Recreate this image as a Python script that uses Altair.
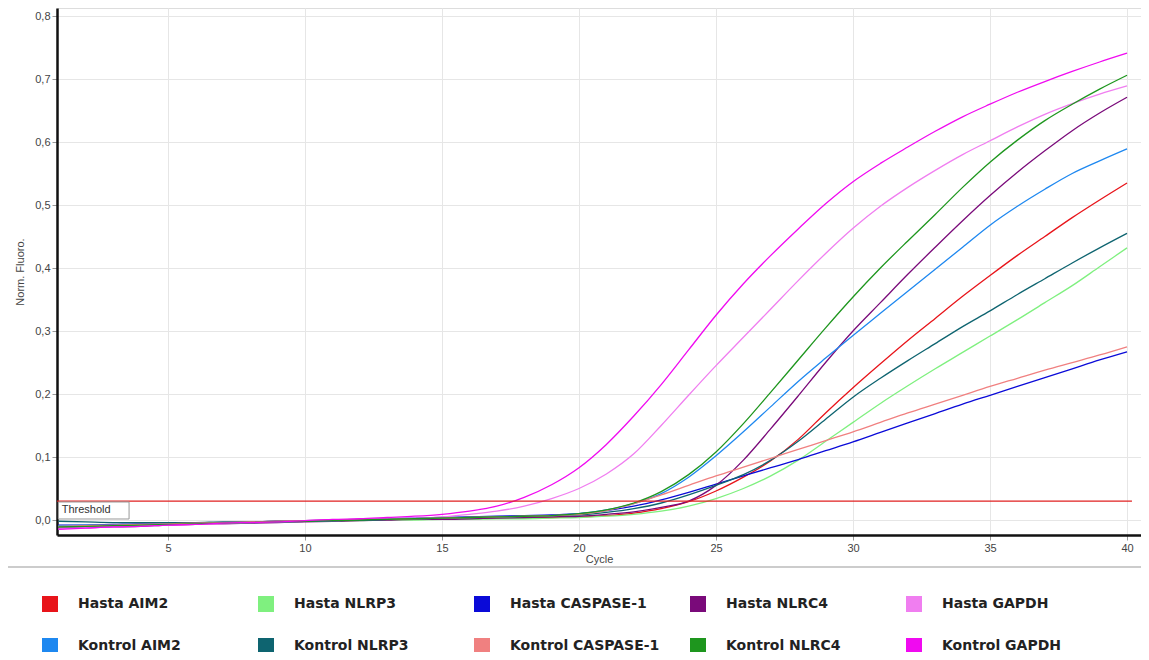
import altair as alt
import pandas as pd

cycles = list(range(1, 41))

series_names = ["Hasta AIM2", "Hasta NLRP3", "Hasta CASPASE-1", "Hasta NLRC4", "Hasta GAPDH",
                "Kontrol AIM2", "Kontrol NLRP3", "Kontrol CASPASE-1", "Kontrol NLRC4", "Kontrol GAPDH"]
series_colors = ["#e8141a", "#7ff07f", "#0a0ad8", "#7a0a7a", "#f07ef0",
                 "#1e88f0", "#0e6470", "#f08080", "#1e961e", "#f00af0"]

hasta_aim2 = [-0.010, -0.009, -0.008, -0.007, -0.006, -0.005, -0.005, -0.004, -0.003, -0.002,
              -0.001, 0.000, 0.001, 0.001, 0.002, 0.002, 0.003, 0.003, 0.004, 0.005,
              0.007, 0.011, 0.018, 0.029, 0.046, 0.068, 0.094, 0.128, 0.170, 0.210,
              0.248, 0.285, 0.320, 0.355, 0.388, 0.420, 0.450, 0.480, 0.508, 0.535]
hasta_nlrp3 = [-0.011, -0.010, -0.009, -0.008, -0.007, -0.006, -0.005, -0.004, -0.003, -0.002,
               -0.002, -0.001, 0.000, 0.000, 0.001, 0.001, 0.002, 0.002, 0.003, 0.004,
               0.006, 0.009, 0.014, 0.022, 0.034, 0.050, 0.070, 0.095, 0.125, 0.155,
               0.185, 0.213, 0.240, 0.266, 0.292, 0.318, 0.345, 0.372, 0.402, 0.432]
hasta_casp1 = [-0.008, -0.008, -0.007, -0.006, -0.006, -0.005, -0.004, -0.003, -0.002, -0.001,
               0.000, 0.001, 0.002, 0.003, 0.004, 0.005, 0.006, 0.007, 0.008, 0.010,
               0.015, 0.022, 0.032, 0.044, 0.057, 0.070, 0.083, 0.096, 0.110, 0.124,
               0.139, 0.154, 0.169, 0.184, 0.198, 0.212, 0.226, 0.240, 0.254, 0.267]
hasta_nlrc4 = [-0.013, -0.012, -0.011, -0.010, -0.008, -0.007, -0.006, -0.005, -0.004, -0.003,
               -0.002, -0.001, 0.000, 0.001, 0.001, 0.002, 0.003, 0.004, 0.005, 0.006,
               0.009, 0.013, 0.020, 0.030, 0.055, 0.095, 0.145, 0.197, 0.250, 0.300,
               0.345, 0.390, 0.433, 0.475, 0.515, 0.552, 0.586, 0.618, 0.646, 0.671]
hasta_gapdh = [-0.014, -0.012, -0.011, -0.009, -0.008, -0.007, -0.006, -0.004, -0.003, -0.002,
               -0.001, 0.001, 0.002, 0.003, 0.005, 0.009, 0.014, 0.022, 0.034, 0.050,
               0.073, 0.105, 0.150, 0.198, 0.245, 0.290, 0.335, 0.380, 0.423, 0.463,
               0.498, 0.528, 0.555, 0.580, 0.602, 0.624, 0.644, 0.661, 0.676, 0.689]
kontrol_aim2 = [-0.009, -0.008, -0.008, -0.007, -0.006, -0.005, -0.004, -0.004, -0.003, -0.002,
                -0.001, 0.000, 0.001, 0.002, 0.003, 0.004, 0.005, 0.006, 0.007, 0.010,
                0.016, 0.026, 0.042, 0.068, 0.102, 0.140, 0.180, 0.220, 0.257, 0.293,
                0.328, 0.363, 0.398, 0.433, 0.468, 0.498, 0.525, 0.550, 0.570, 0.589]
kontrol_nlrp3 = [-0.002, -0.003, -0.004, -0.004, -0.004, -0.004, -0.003, -0.003, -0.002, -0.002,
                 -0.001, 0.000, 0.001, 0.002, 0.003, 0.004, 0.005, 0.006, 0.007, 0.008,
                 0.012, 0.018, 0.027, 0.040, 0.055, 0.072, 0.095, 0.125, 0.160, 0.195,
                 0.225, 0.253, 0.280, 0.307, 0.332, 0.358, 0.383, 0.408, 0.432, 0.455]
kontrol_casp1 = [-0.010, -0.009, -0.008, -0.007, -0.006, -0.005, -0.004, -0.003, -0.002, -0.001,
                 0.000, 0.001, 0.001, 0.002, 0.003, 0.004, 0.005, 0.006, 0.007, 0.009,
                 0.015, 0.026, 0.040, 0.055, 0.070, 0.084, 0.098, 0.112, 0.126, 0.140,
                 0.155, 0.170, 0.184, 0.198, 0.212, 0.225, 0.238, 0.250, 0.262, 0.275]
kontrol_nlrc4 = [-0.011, -0.010, -0.009, -0.008, -0.007, -0.006, -0.005, -0.004, -0.003, -0.002,
                 -0.001, 0.000, 0.001, 0.002, 0.003, 0.004, 0.005, 0.006, 0.007, 0.010,
                 0.016, 0.027, 0.045, 0.072, 0.108, 0.153, 0.203, 0.254, 0.305, 0.354,
                 0.400, 0.443, 0.485, 0.528, 0.568, 0.603, 0.634, 0.660, 0.684, 0.706]
kontrol_gapdh = [-0.015, -0.013, -0.011, -0.010, -0.008, -0.007, -0.005, -0.004, -0.003, -0.001,
                 0.001, 0.002, 0.004, 0.006, 0.009, 0.014, 0.022, 0.036, 0.056, 0.083,
                 0.120, 0.165, 0.215, 0.270, 0.325, 0.375, 0.420, 0.462, 0.502, 0.537,
                 0.566, 0.592, 0.617, 0.640, 0.660, 0.679, 0.696, 0.712, 0.727, 0.741]

all_series = [hasta_aim2, hasta_nlrp3, hasta_casp1, hasta_nlrc4, hasta_gapdh,
              kontrol_aim2, kontrol_nlrp3, kontrol_casp1, kontrol_nlrc4, kontrol_gapdh]

x_ticks = [5, 10, 15, 20, 25, 30, 35, 40]
y_ticks = [0.0, 0.1, 0.2, 0.3, 0.4, 0.5, 0.6, 0.7, 0.8]
threshold_value = 0.03

rows = []
for name, vals in zip(series_names, all_series):
    for c, v in zip(cycles, vals):
        rows.append({"series": name, "cycle": c, "fluoro": v})
df = pd.DataFrame(rows)

X_DOMAIN = [0.95, 40.51]
Y_DOMAIN = [-0.0238, 0.8127]

xscale = alt.Scale(domain=X_DOMAIN, nice=False, zero=False)
yscale = alt.Scale(domain=Y_DOMAIN, nice=False, zero=False)
cscale = alt.Scale(domain=series_names, range=series_colors)

x_axis = alt.Axis(values=x_ticks, title="Cycle", format="d", labelFont="Liberation Sans",
                  labelFontSize=11, labelColor="#444", titleFont="Liberation Sans",
                  titleFontSize=11, titleFontWeight="normal", titleColor="#444",
                  domainColor="#111", domainWidth=2.5, tickColor="#999", tickSize=5,
                  gridColor="#e6e6e6", labelPadding=2, titlePadding=0)
y_axis = alt.Axis(values=y_ticks, title="Norm. Fluoro.",
                  labelExpr="replace(format(datum.value, '.1f'), '.', ',')",
                  labelFont="Liberation Sans", labelFontSize=11, labelColor="#444",
                  titleFont="Liberation Sans", titleFontSize=11, titleFontWeight="normal",
                  titleColor="#444", domainColor="#111", domainWidth=2.5, tickColor="#999",
                  tickSize=5, gridColor="#e6e6e6", labelPadding=2, titlePadding=9)

base = alt.Chart(df)

lines = base.mark_line(strokeWidth=1.3, interpolate="monotone").encode(
    x=alt.X("cycle:Q", scale=xscale, axis=x_axis),
    y=alt.Y("fluoro:Q", scale=yscale, axis=y_axis),
    color=alt.Color("series:N", scale=cscale,
                    legend=alt.Legend(orient="none", legendX=-15, legendY=588, columns=5,
                                      direction="horizontal",
                                      symbolType="square", symbolSize=64,
                                      symbolStrokeWidth=8,
                                      labelFont="DejaVu Sans", labelFontWeight="bold",
                                      labelFontSize=14, labelColor="#222", labelOffset=20,
                                      columnPadding=18, rowPadding=2, gridAlign="all",
                                      title=None, labelLimit=300)),
    detail="series:N",
)

thr_df = pd.DataFrame({"x0": [0.95], "x1": [40.18], "y": [threshold_value]})
threshold = alt.Chart(thr_df).mark_rule(color="#e02020", strokeWidth=1.2).encode(
    x=alt.X("x0:Q", scale=xscale), x2="x1:Q", y=alt.Y("y:Q", scale=yscale))

box_df = pd.DataFrame({"x0": [1.0], "x1": [3.58], "y0": [0.0286], "y1": [0.0016],
                       "tx": [1.12], "ty": [0.0151], "label": ["Threshold"]})
thr_box = alt.Chart(box_df).mark_rect(fill="white", stroke="#999", strokeWidth=1).encode(
    x=alt.X("x0:Q", scale=xscale), x2="x1:Q",
    y=alt.Y("y0:Q", scale=yscale), y2="y1:Q")
thr_text = alt.Chart(box_df).mark_text(align="left", baseline="middle", font="Liberation Sans",
                                       fontSize=11, color="#333").encode(
    x=alt.X("tx:Q", scale=xscale), y=alt.Y("ty:Q", scale=yscale), text="label:N")

separator = alt.Chart(box_df).mark_rule(color="#bbbbbb", strokeWidth=1.5).encode(
    x=alt.value(-49), x2=alt.value(1084), y=alt.value(559))

chart = alt.layer(lines, threshold, thr_box, thr_text, separator).properties(
    width=1084, height=527,
    autosize=alt.AutoSizeParams(type="none"),
    padding={"left": 49, "top": 0, "right": 0, "bottom": 117},
).configure_view(stroke="#888", strokeWidth=2).configure(background="white")

chart.save("out.html", embed_options={"renderer": "svg", "actions": False})
